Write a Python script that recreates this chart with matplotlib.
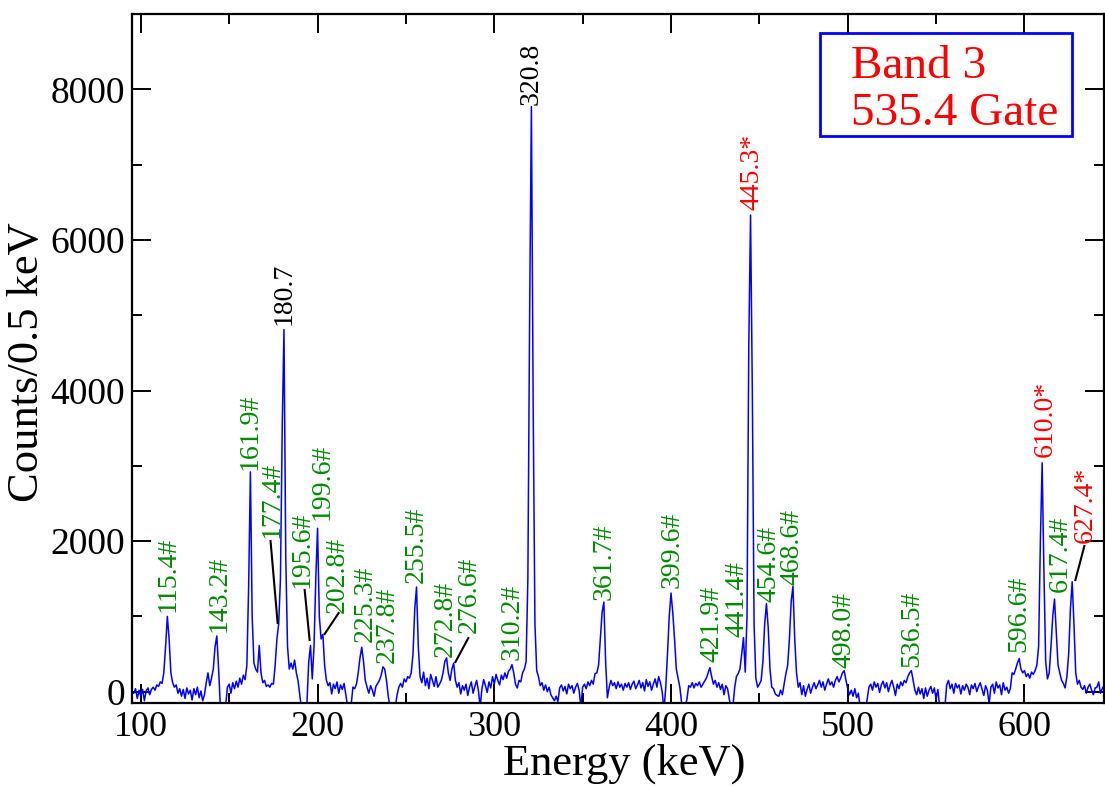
import numpy as np
import matplotlib
matplotlib.use("Agg")
import matplotlib.pyplot as plt
from matplotlib.patches import Rectangle
from matplotlib.ticker import MultipleLocator

plt.rcParams['font.family'] = ['Liberation Serif', 'DejaVu Serif']

# ---------------- data (counts per 1 keV step) ----------------
e_start, e_stop = 96, 646   # channel energies (keV)

counts_096_145 = [-20, 40, -90, 20, -60, 30, -120, 10, 50, -40,
                  30, 60, 20, 90, 70, 130, 110, 250, 600, 1000,
                  700, 250, 120, 60, 90, -20, 40, -60, 30, -90,
                  50, -30, 20, -110, 40, -40, 60, -80, 10, -120,
                  -40, 120, 250, 80, 180, 300, 600, 740, 300, -200]
counts_146_195 = [-250, -200, -180, 60, 100, -20, 120, 40, 140, 60,
                  180, 100, 220, 160, 350, 1400, 2920, 1000, 380, 300,
                  260, 613, 250, 120, 150, 70, 90, 60, 110, 100,
                  350, 700, 900, 1500, 3500, 4810, 1800, 600, 300, 380,
                  300, 420, 250, 140, -50, -250, -250, -200, -150, 400]
counts_196_245 = [613, 170, 600, 1500, 2170, 1000, 700, 760, 350, 150,
                  80, 120, -30, 100, 40, 130, -20, 90, 30, 110,
                  -40, -200, -250, -180, 60, 40, 100, 250, 450, 590,
                  400, 150, 60, -20, 80, 20, -60, 70, 110, 150,
                  220, 330, 300, 150, -60, -200, -250, -180, -200, -40]
counts_246_295 = [60, 110, 60, 170, 130, 200, 180, 250, 500, 1100,
                  1390, 600, 200, 120, 260, 80, 180, 40, 230, 150,
                  70, 200, 60, 100, 150, 250, 400, 450, 250, 150,
                  300, 380, 150, 60, 120, -30, 80, 20, 100, -50,
                  60, 130, -20, 70, 150, 20, -200, 40, 160, 80]
counts_296_345 = [-10, 130, 50, 200, 100, 230, 150, 90, 220, 160,
                  250, 180, 270, 300, 360, 250, 100, 50, 150, 130,
                  250, 300, 400, 1500, 5000, 7770, 3800, 900, 280, 200,
                  80, 120, 20, 90, 0, 60, -40, -80, -120, -60,
                  -130, 50, 90, 10, 70, -30, 100, 40, 80, -20]
counts_346_395 = [60, 110, 20, -200, 60, 100, 40, 130, 80, 150,
                  100, 240, 250, 350, 700, 1050, 1190, 400, -80, 60,
                  150, 80, 120, 40, 130, 60, 100, 20, 110, 60,
                  120, 30, 100, 140, 40, 90, 150, 50, 120, 10,
                  160, 70, 130, 20, 100, 170, 60, 200, 120, 0]
counts_396_445 = [-250, 50, 500, 1000, 1310, 1050, 700, 300, 180, 60,
                  -150, -220, -200, -100, 80, 60, 120, 50, 110, 80,
                  130, 60, 100, 140, 180, 250, 320, 200, 100, 150,
                  60, 120, 30, 100, -40, 80, 40, -100, -220, -200,
                  50, 200, 240, 300, 500, 720, 260, 1000, 4600, 6330]
counts_446_495 = [4000, 900, 180, 60, 100, 150, 400, 900, 1170, 850,
                  300, 60, 40, -30, -50, -60, 20, -40, 100, 240,
                  350, 700, 1200, 1400, 700, 250, 60, 120, -40, 80,
                  -60, 30, 100, -20, 60, 120, 40, 90, 150, 60,
                  130, 20, 100, 170, 90, 130, 60, 150, 200, 130]
counts_496_545 = [180, 250, 280, 150, 40, -40, 20, -60, 40, -80,
                  -20, -200, -250, -200, -220, -100, 60, 100, 20, 130,
                  60, 110, -10, 90, 140, 50, 120, 0, 90, 150,
                  60, -50, 100, 40, 130, 80, 150, 120, 200, 250,
                  280, 150, 20, -40, 60, -30, 40, -90, 50, -60]
counts_546_595 = [20, 70, -20, 50, -100, 30, -200, -220, -180, -200,
                  90, 150, 40, 100, -20, 110, 50, 90, -30, 80,
                  20, 100, 60, -40, 90, 40, 110, 0, 70, 120,
                  30, -50, 80, 20, -160, 60, 100, -20, 130, 50,
                  90, -40, 120, 20, 60, -20, 40, 250, 230, 300]
counts_596_645 = [380, 440, 300, 250, 280, 200, 240, 180, 260, 230,
                  280, 350, 600, 2000, 3040, 1600, 400, 170, 250, 600,
                  1000, 1230, 800, 350, 250, 150, 110, 50, 200, 500,
                  1100, 1460, 900, 250, 100, 150, 60, 30, 80, -20,
                  60, 100, 20, -40, 50, 60, 130, -20, 40, 80]

# peak labels
label_texts = ["115.4#", "143.2#", "161.9#", "177.4#", "180.7", "195.6#", "199.6#",
               "202.8#", "225.3#", "237.8#", "255.5#", "272.8#", "276.6#", "310.2#",
               "320.8", "361.7#", "399.6#", "421.9#", "441.4#", "445.3*", "454.6#",
               "468.6#", "498.0#", "536.5#", "596.6#", "610.0*", "617.4#", "627.4*"]
label_kind = ["g", "g", "g", "g", "k", "g", "g",
              "g", "g", "g", "g", "g", "g", "g",
              "k", "g", "g", "g", "g", "r", "g",
              "g", "g", "g", "g", "r", "g", "r"]

# label anchor positions (keV, counts) – bottom-centre of rotated text
label_x = [115.3, 144.1, 161.6, 174.0, 180.8, 191.5, 202.8,
           211.3, 227.1, 239.5, 255.9, 272.3, 285.9, 310.2,
           320.9, 362.1, 400.6, 423.2, 437.3, 445.8, 455.4,
           468.4, 497.7, 536.2, 596.6, 611.9, 620.3, 634.5]
label_y = [1058, 793, 2945, 2041, 4870, 1377, 2280,
           1045, 660, 381, 1444, 461, 780, 421,
           7792, 1218, 1377, 394, 726, 6397, 1191,
           1417, 315, 328, 527, 3117, 1324, 1975]

# leader lines (x0, y0, x1, y1)
leaders = [(173.4, 2001, 177.4, 912),
           (192.7, 1351, 195.5, 687),
           (211.9, 1045, 204.0, 766),
           (285.3, 713, 278.0, 394),
           (633.9, 1935, 628.8, 1483)]

legend_lines = ["Band 3", "535.4 Gate"]

# ---------------- plotting ----------------
energy = np.arange(e_start, e_stop, 1.0)
counts = np.array(counts_096_145 + counts_146_195 + counts_196_245 + counts_246_295 +
                  counts_296_345 + counts_346_395 + counts_396_445 + counts_446_495 +
                  counts_496_545 + counts_546_595 + counts_596_645, dtype=float)

fig = plt.figure(figsize=(11.05, 7.86), dpi=100)
ax = fig.add_axes([132 / 1105, 1 - 703 / 786, (1104 - 132) / 1105, (703 - 14) / 786])

ax.plot(energy, counts, color="#0000ff", lw=1.1)

ax.set_xlim(95, 645)
ax.set_ylim(-150, 9000)
ax.xaxis.set_major_locator(MultipleLocator(100))
ax.xaxis.set_minor_locator(MultipleLocator(50))
ax.yaxis.set_major_locator(MultipleLocator(2000))
ax.yaxis.set_minor_locator(MultipleLocator(1000))
ax.tick_params(which="both", direction="in", top=True, right=True, width=1.4)
ax.tick_params(axis="y", pad=5, labelsize=27)
ax.tick_params(axis="x", pad=6, labelsize=26)
ax.tick_params(which="major", length=14)
ax.tick_params(which="minor", length=7)
for s in ax.spines.values():
    s.set_linewidth(1.6)

ax.set_xlabel("Energy (keV)", fontsize=32)
ax.xaxis.set_label_coords((624 - 132) / 972, (703 - 744) / 689)
ax.set_ylabel("Counts/0.5 keV", fontsize=32)
ax.yaxis.set_label_coords((47 - 132) / 972, (703 - 362) / 689)

colors = {"g": "#008b00", "k": "black", "r": "#ff0000"}
for t, k, x, y in zip(label_texts, label_kind, label_x, label_y):
    ax.text(x, y, t, rotation=90, ha="center", va="bottom", fontsize=20,
            color=colors[k])

for x0, y0, x1, y1 in leaders:
    ax.plot([x0, x1], [y0, y1], color="black", lw=1.5)

ax.add_patch(Rectangle((0.708, 0.823), 0.259, 0.149, transform=ax.transAxes,
                       fill=False, edgecolor="#0000ff", lw=2.0, zorder=5))
ax.text(0.740, 0.907, legend_lines[0], transform=ax.transAxes, fontsize=34,
        color="#ff0000", va="baseline", ha="left")
ax.text(0.740, 0.839, legend_lines[1], transform=ax.transAxes, fontsize=34,
        color="#ff0000", va="baseline", ha="left")

fig.savefig("out.png", dpi=100)
